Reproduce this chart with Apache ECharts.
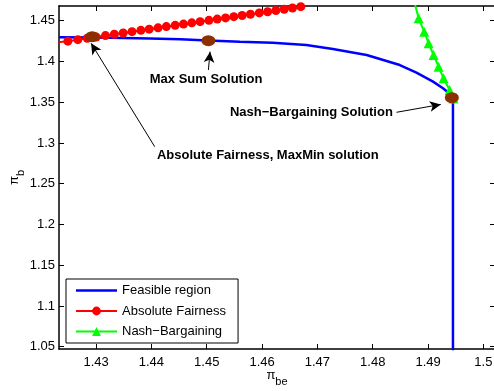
<!DOCTYPE html>
<html><head><meta charset="utf-8">
<script src="https://cdn.jsdelivr.net/npm/echarts@6/dist/echarts.min.js"></script>
<style>html,body{margin:0;padding:0;background:#fff}#c{width:494px;height:391px}</style>
</head><body><div id="c"></div>
<script>
// ---- data ----
const xTicks = [1.43, 1.44, 1.45, 1.46, 1.47, 1.48, 1.49, 1.5];
const yTicks = [1.05, 1.1, 1.15, 1.2, 1.25, 1.3, 1.35, 1.4, 1.45];

const feasibleX = [1.4233, 1.4300, 1.4397, 1.4452, 1.4502, 1.4560, 1.4619, 1.4680, 1.4728, 1.4789, 1.4849, 1.4879, 1.4909, 1.4927, 1.4942, 1.4945, 1.4945];
const feasibleY = [1.4296, 1.4294, 1.4282, 1.4272, 1.4257, 1.4242, 1.4230, 1.4202, 1.4153, 1.4079, 1.3956, 1.3862, 1.3752, 1.3671, 1.3588, 1.3558, 1.0000];

const fairX = [1.4232, 1.4249, 1.4267, 1.4284, 1.4300, 1.4317, 1.4333, 1.4349, 1.4365, 1.4381, 1.4396, 1.4412, 1.4427, 1.4443, 1.4458, 1.4473, 1.4488, 1.4504, 1.4519, 1.4534, 1.4549, 1.4564, 1.4579, 1.4595, 1.4610, 1.4625, 1.4640, 1.4655, 1.4670];
const fairY = [1.4235, 1.4249, 1.4267, 1.4284, 1.4300, 1.4317, 1.4333, 1.4349, 1.4365, 1.4381, 1.4396, 1.4412, 1.4427, 1.4443, 1.4458, 1.4473, 1.4488, 1.4504, 1.4519, 1.4534, 1.4549, 1.4564, 1.4579, 1.4595, 1.4610, 1.4625, 1.4640, 1.4655, 1.4672];

const nashX = [1.4876, 1.4883, 1.4893, 1.4901, 1.4910, 1.4919, 1.4928, 1.4939, 1.4946];
const nashY = [1.4710, 1.4529, 1.4365, 1.4223, 1.4079, 1.3936, 1.3793, 1.3650, 1.3545];

const solutionX = [1.4293, 1.4503, 1.4943];
const solutionY = [1.4304, 1.4255, 1.3555];
const solutionNames = ['Absolute Fairness, MaxMin solution', 'Max Sum Solution', 'Nash\u2212Bargaining Solution'];

const legendNames = ['Feasible region', 'Absolute Fairness', 'Nash\u2212Bargaining'];

// ---- annotation layout (data coordinates) ----
const arrows = [
  [[1.4406, 1.2954], [1.4291, 1.4223]],
  [[1.4503, 1.3895], [1.4506, 1.4120]],
  [[1.4843, 1.3376], [1.4923, 1.3472]]
];
const textAnchors = [[1.4410, 1.2852], [1.4397, 1.3781], [1.4542, 1.3371]];

const FONT = 'Liberation Sans, Arial, Helvetica, sans-serif';
const zip = (a, b) => a.map((v, i) => [v, b[i]]);

const X_MIN = 1.4233, X_MAX = 1.5021, Y_MIN = 1.0472, Y_MAX = 1.468;

const tickStyle = { inside: true, length: 5, lineStyle: { color: '#000', width: 1 } };
const nameRich = {
  p: { fontSize: 13, fontFamily: FONT, color: '#000', lineHeight: 24, verticalAlign: 'middle' },
  s: { fontSize: 11, fontFamily: FONT, color: '#000', lineHeight: 24, verticalAlign: 'bottom' }
};

const chart = echarts.init(document.getElementById('c'), null, { renderer: 'canvas' });
chart.setOption({
  animation: false,
  backgroundColor: '#fff',
  textStyle: { fontFamily: FONT },
  grid: { left: 59, right: -1, top: 6, bottom: 42, containLabel: false, outerBoundsMode: 'none' },
  xAxis: [{
    type: 'value', min: X_MIN, max: X_MAX, position: 'bottom',
    name: '{p|\u03c0}{s|be}', nameLocation: 'middle', nameGap: 14, nameMoveOverlap: false,
    nameTextStyle: { rich: nameRich },
    splitLine: { show: false },
    axisLine: { show: true, onZero: false, lineStyle: { color: '#000', width: 1.5 } },
    axisTick: Object.assign({ customValues: xTicks }, tickStyle),
    axisLabel: { customValues: xTicks, color: '#000', fontSize: 13, fontFamily: FONT, margin: 7,
      formatter: v => String(+v.toFixed(2)) }
  }, {
    type: 'value', min: X_MIN, max: X_MAX, position: 'top',
    splitLine: { show: false },
    axisLine: { show: true, onZero: false, lineStyle: { color: '#000', width: 1.5 } },
    axisTick: Object.assign({ customValues: xTicks }, tickStyle),
    axisLabel: { show: false }
  }],
  yAxis: [{
    type: 'value', min: Y_MIN, max: Y_MAX, position: 'left',
    name: '{p|\u03c0}{s|b}', nameLocation: 'middle', nameGap: 33, nameRotate: 90, nameMoveOverlap: false,
    nameTextStyle: { rich: nameRich },
    splitLine: { show: false },
    axisLine: { show: true, onZero: false, lineStyle: { color: '#000', width: 1.5 } },
    axisTick: Object.assign({ customValues: yTicks }, tickStyle),
    axisLabel: { customValues: yTicks, color: '#000', fontSize: 13, fontFamily: FONT, margin: 4,
      formatter: v => String(+v.toFixed(2)) }
  }, {
    type: 'value', min: Y_MIN, max: Y_MAX, position: 'right',
    splitLine: { show: false },
    axisLine: { show: false, onZero: false },
    axisTick: Object.assign({ customValues: yTicks }, tickStyle),
    axisLabel: { show: false }
  }],
  legend: {
    data: [{ name: legendNames[0], icon: 'path://M0,0H41V2.5H0Z' }, { name: legendNames[1] }, { name: legendNames[2] }],
    orient: 'vertical', left: 66, top: 279,
    backgroundColor: '#fff', borderColor: '#000', borderWidth: 1,
    padding: [5, 12, 5, 9], itemWidth: 41, itemHeight: 11, itemGap: 7.5,
    textStyle: { fontSize: 13, fontFamily: FONT, color: '#000' },
    selectedMode: false
  },
  series: [{
    name: legendNames[0], type: 'line', data: zip(feasibleX, feasibleY),
    showSymbol: false, symbol: 'none', lineStyle: { color: '#0000ff', width: 2.5 },
    itemStyle: { color: '#0000ff' }, z: 2
  }, {
    name: legendNames[1], type: 'line', data: zip(fairX, fairY),
    symbol: 'circle', symbolSize: 9, lineStyle: { color: '#ff0000', width: 2 },
    itemStyle: { color: '#ff0000' }, z: 3
  }, {
    name: legendNames[2], type: 'line', data: zip(nashX, nashY),
    symbol: 'triangle', symbolSize: 10, lineStyle: { color: '#00ff00', width: 2 },
    itemStyle: { color: '#00ff00' }, z: 3
  }, {
    name: 'Solutions', type: 'scatter', data: zip(solutionX, solutionY),
    symbol: 'circle', symbolSize: [14, 11], itemStyle: { color: '#8b3000', opacity: 1 }, z: 5,
    markLine: {
      silent: true, symbol: ['none', 'arrow'], symbolSize: [8, 11], precision: 6,
      lineStyle: { color: '#000', width: 1, type: 'solid' }, label: { show: false },
      data: arrows.map(a => [{ coord: a[0] }, { coord: a[1] }])
    }
  }]
});

const graphics = textAnchors.map((p, i) => {
  const px = chart.convertToPixel({ gridIndex: 0 }, p);
  return { type: 'text', x: px[0], y: px[1], z: 100,
    style: { text: solutionNames[i], font: 'bold 13px ' + FONT, fill: '#000', align: 'left', verticalAlign: 'middle' } };
});
chart.setOption({ graphic: graphics });
</script></body></html>
